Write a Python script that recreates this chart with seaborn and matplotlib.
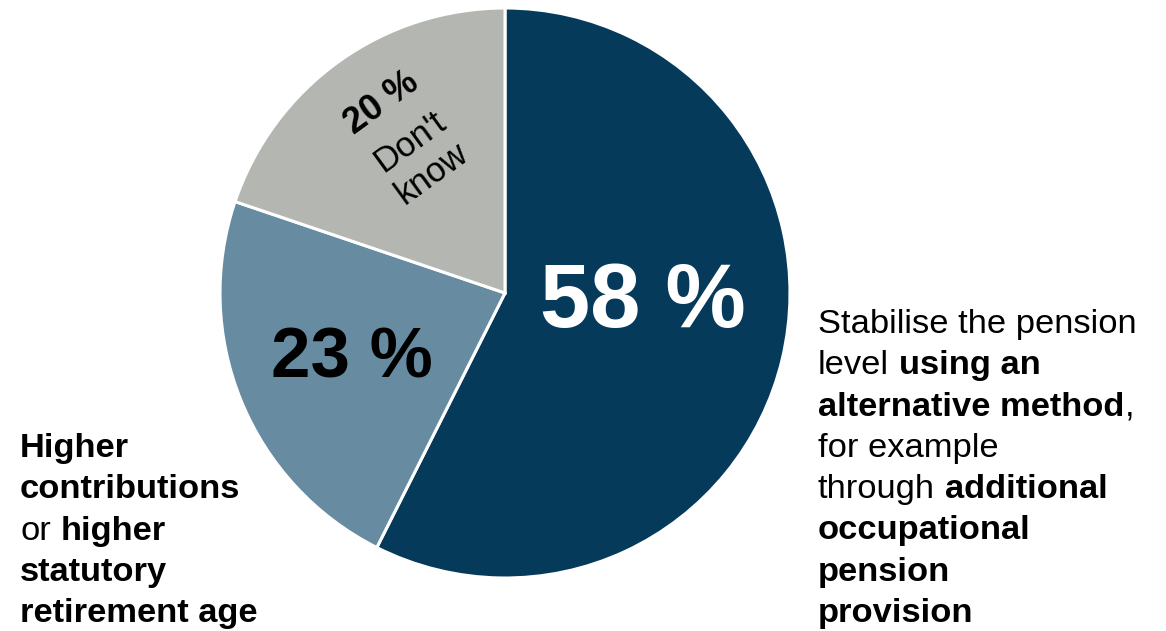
import matplotlib
matplotlib.use("Agg")
import matplotlib.pyplot as plt
import seaborn as sns

# ---- data ----
categories = ["Stabilise the pension level using an alternative method",
              "Higher contributions or higher statutory retirement age",
              "Don't know"]
values = [58, 23, 20]
pct_labels = ["58 %", "23 %", "20 %"]
colors = ["#053A5B", "#678CA1", "#B4B6B1"]

sns.set_theme(style="white")
plt.rcParams["font.family"] = ["Liberation Sans", "DejaVu Sans"]

W, H = 1166, 631
fig = plt.figure(figsize=(W / 100, H / 100), dpi=100)
fig.patch.set_facecolor("white")

cx, cy, r = 505, 631 - 293, 285
ax = fig.add_axes([(cx - r) / W, (cy - r) / H, 2 * r / W, 2 * r / H])
ax.pie(values, colors=colors, startangle=90, counterclock=False,
       wedgeprops=dict(edgecolor="white", linewidth=2.2))
ax.set_xlim(-1, 1)
ax.set_ylim(-1, 1)
ax.set_aspect("equal")
ax.axis("off")

# percentage labels
ax.text(0.484, -0.036, pct_labels[0], color="white", fontsize=65,
        fontweight="bold", ha="center", va="center")
ax.text(-0.538, -0.232, pct_labels[1], color="black", fontsize=51,
        fontweight="bold", ha="center", va="center")
rot = 36
ax.text(-0.433, 0.665, pct_labels[2], color="black", fontsize=26,
        fontweight="bold", ha="center", va="center", rotation=rot,
        rotation_mode="anchor")
ax.text(-0.295, 0.475, "Don't\nknow", color="black", fontsize=25,
        ha="center", va="center", rotation=rot, rotation_mode="anchor",
        linespacing=1.2, multialignment="center")

FS = 24.8
SPACE = 0.278 * FS


def rich_line(x_px, base_px, parts):
    """parts: list of (text, bold)"""
    last = None
    for txt, bold in parts:
        w = "bold" if bold else "normal"
        if last is None:
            last = fig.text(x_px / W, 1 - base_px / H, txt, fontsize=FS,
                            fontweight=w, ha="left", va="baseline",
                            color="black")
        else:
            gap = 0 if txt.startswith(",") else SPACE
            last = ax.annotate(txt, xy=(1, 0), xycoords=last,
                               xytext=(gap, 0), textcoords="offset points",
                               fontsize=FS, fontweight=w, ha="left",
                               va="bottom", color="black",
                               annotation_clip=False)


right_lines = [
    [("Stabilise the pension", False)],
    [("level", False), ("using an", True)],
    [("alternative method", True), (",", False)],
    [("for example", False)],
    [("through", False), ("additional", True)],
    [("occupational", True)],
    [("pension", True)],
    [("provision", True)],
]
base = 333
for ln in right_lines:
    rich_line(818, base, ln)
    base += 41.3

left_lines = [
    [("Higher", True)],
    [("contributions", True)],
    [("or", False), ("higher", True)],
    [("statutory", True)],
    [("retirement age", True)],
]
base = 457
for ln in left_lines:
    rich_line(20, base, ln)
    base += 41.3

fig.savefig("out.png", dpi=100, facecolor="white")
